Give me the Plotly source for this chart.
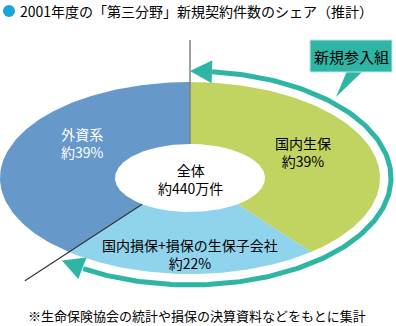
import numpy as np
import plotly.graph_objects as go

# ---- data ----
categories = ["国内生保", "国内損保+損保の生保子会社", "外資系"]
shares = [39, 22, 39]
share_labels = ["約39%", "約22%", "約39%"]
slice_colors = ["#c1d461", "#8fd3ec", "#6699c9"]
total_label = ["全体", "約440万件"]
title_text = "2001年度の「第三分野」新規契約件数のシェア（推計）"
note_text = "※生命保険協会の統計や損保の決算資料などをもとに集計"
callout_text = "新規参入組"
new_entrant_share = shares[0] + shares[1]

FONT = "Noto Sans CJK JP, sans-serif"
TEAL = "#2eb5a6"

# ---- geometry (layout constants) ----
cx, cy = 190, 178
rxo, ryo = 190, 96
rxi, ryi = 75, 34
rxa, rya = 201, 107


def pt(theta_deg, rx, ry):
    t = np.radians(theta_deg)
    return cx + rx * np.sin(t), cy - ry * np.cos(t)


fig = go.Figure()

total = sum(shares)
cum = 0
for name, v, col in zip(categories, shares, slice_colors):
    a1 = cum / total * 360
    a2 = (cum + v) / total * 360
    cum += v
    th = np.linspace(a1, a2, 120)
    xo, yo = pt(th, rxo, ryo)
    xi, yi = pt(th[::-1], rxi, ryi)
    fig.add_trace(go.Scatter(
        x=np.concatenate([xo, xi, xo[:1]]), y=np.concatenate([yo, yi, yo[:1]]),
        fill="toself", fillcolor=col, mode="lines", line=dict(width=0, color=col),
        hoverinfo="skip", showlegend=False))

# boundary lines
x0, y0 = pt(0.0, rxi, ryi)
fig.add_trace(go.Scatter(x=[x0, x0], y=[y0, 40], mode="lines",
                         line=dict(color="#808080", width=1.5), hoverinfo="skip", showlegend=False))
end_a = new_entrant_share / total * 360
xi1, yi1 = pt(end_a, rxi, ryi)
xo1, yo1 = pt(end_a, rxo, ryo)
t_ext = 1.6
fig.add_trace(go.Scatter(x=[xi1, xi1 + t_ext * (xo1 - xi1)], y=[yi1, yi1 + t_ext * (yo1 - yi1)],
                         mode="lines", line=dict(color="#333333", width=1.2),
                         hoverinfo="skip", showlegend=False))

# teal arc with arrowheads
head_len, head_half = 22, 11.5
d_start = 6.3
d_end = 7.5
th = np.linspace(d_start, end_a - d_end, 200)
xa, ya = pt(th, rxa, rya)
fig.add_trace(go.Scatter(x=xa, y=ya, mode="lines", line=dict(color=TEAL, width=5),
                         hoverinfo="skip", showlegend=False))


def head(tip_a, base_a):
    tx, ty = pt(tip_a, rxa, rya)
    bx, by = pt(base_a, rxa, rya)
    dx, dy = tx - bx, ty - by
    L = np.hypot(dx, dy)
    ux, uy = dx / L, dy / L
    bx, by = tx - ux * head_len, ty - uy * head_len
    px, py = -uy, ux
    xs = [tx, bx + px * head_half, bx - px * head_half, tx]
    ys = [ty, by + py * head_half, by - py * head_half, ty]
    fig.add_trace(go.Scatter(x=xs, y=ys, fill="toself", fillcolor=TEAL, mode="lines",
                             line=dict(width=0, color=TEAL), hoverinfo="skip", showlegend=False))


head(0.0, d_start)
head(end_a, end_a - d_end)

# callout box
fig.add_trace(go.Scatter(x=[347, 363, 336, 347], y=[71, 71, 97, 71], fill="toself",
                         fillcolor=TEAL, mode="lines", line=dict(width=0, color=TEAL),
                         hoverinfo="skip", showlegend=False))
shapes = [dict(type="rect", x0=310, x1=392, y0=40, y1=72, xref="x", yref="y",
               fillcolor=TEAL, line=dict(color="#bfe8e2", width=1))]

# title marker
fig.add_trace(go.Scatter(x=[9], y=[11], mode="markers",
                         marker=dict(size=12, color="#1ba3dc", line=dict(width=0)),
                         hoverinfo="skip", showlegend=False))

ann = []


def text(x, y, s, size=14, color="black", xanchor="center"):
    ann.append(dict(x=x, y=y, xref="x", yref="y", text=s, showarrow=False,
                    font=dict(family=FONT, size=size, color=color), xanchor=xanchor,
                    yanchor="middle"))


text(18, 11, title_text, 14, xanchor="left")
text(351, 56, callout_text, 15)
text(303, 152, categories[0] + "<br>" + share_labels[0])
text(190, 254, categories[1] + "<br>" + share_labels[1])
text(82, 143, categories[2] + "<br>" + share_labels[2], color="white")
text(190, 179, total_label[0] + "<br>" + total_label[1])
text(197, 315, note_text, 13)

fig.update_layout(
    width=396, height=326, margin=dict(l=0, r=0, t=0, b=0),
    paper_bgcolor="white", plot_bgcolor="white",
    xaxis=dict(range=[0, 396], visible=False, fixedrange=True),
    yaxis=dict(range=[326, 0], visible=False, fixedrange=True),
    shapes=shapes, annotations=ann, showlegend=False,
)
fig.write_html("out.html")
